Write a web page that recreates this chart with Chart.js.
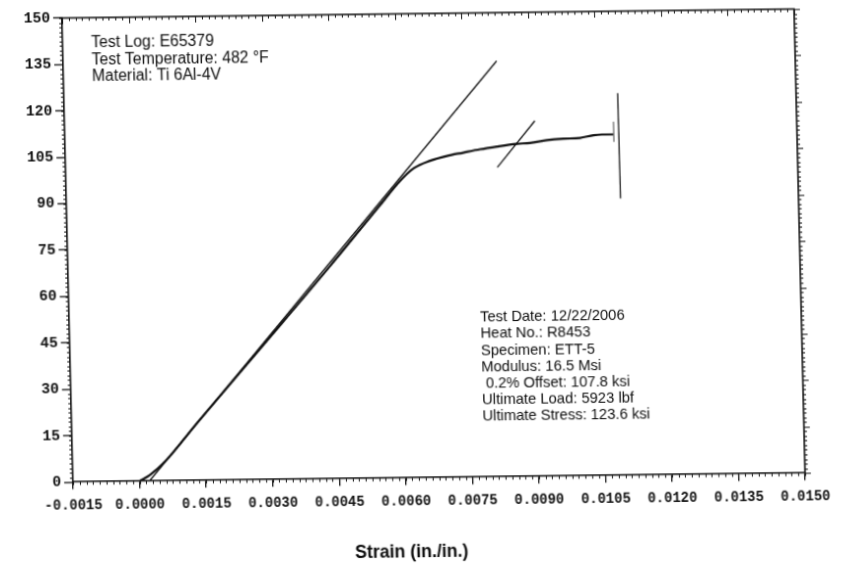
<!DOCTYPE html>
<html>
<head>
<meta charset="utf-8">
<script src="https://cdn.jsdelivr.net/npm/chart.js@4.4.0/dist/chart.umd.min.js"></script>
<style>
  html, body { margin: 0; padding: 0; background: #fff; overflow: hidden; }
  #grafico { display: block; }
</style>
</head>
<body>
<canvas id="grafico" width="853" height="576"></canvas>
<script>
// eixos
const strainTicks = [-0.0015, 0, 0.0015, 0.003, 0.0045, 0.006, 0.0075, 0.009, 0.0105, 0.012, 0.0135, 0.015];
const stressTicks = [0, 15, 30, 45, 60, 75, 90, 105, 120, 135, 150];

// curva tensao x deformacao
const curveStrain = [0.0000, 0.00024, 0.0006, 0.00132, 0.00286, 0.00441, 0.00557, 0.00603, 0.00634, 0.00672, 0.00710,
                     0.00747, 0.00785, 0.00823, 0.00868, 0.00898, 0.00936, 0.00973, 0.01011, 0.01041, 0.01060, 0.01086];
const curveStress = [0, 2.0, 6.5, 18.5, 43.5, 68.8, 88.3, 96.0, 100.0, 102.4, 103.9,
                     104.9, 105.9, 106.7, 107.5, 107.8, 108.6, 109.0, 109.2, 110.0, 110.2, 110.2];

// linha do modulo
const modStrain = [0.00022, 0.00827];
const modStress = [0, 134.4];

// linha de offset 0.2%
const offStrain = [0.00823, 0.00910];
const offStress = [100.0, 114.9];

// marcas finais
const endStrain = [0.01087, 0.01087];
const endStress = [107.8, 114.3];
const ultStrain = [0.01098, 0.01099];
const ultStress = [123.5, 89.5];

const infoTop = ['Test Log: E65379', 'Test Temperature: 482 °F', 'Material: Ti 6Al-4V'];
const infoBottom = ['Test Date: 12/22/2006', 'Heat No.: R8453', 'Specimen: ETT-5', 'Modulus: 16.5 Msi',
                    ' 0.2% Offset: 107.8 ksi', 'Ultimate Load: 5923 lbf', 'Ultimate Stress: 123.6 ksi'];
const xTitle = 'Strain (in./in.)';

function pontos(xs, ys) {
    return xs.map(function (x, i) { return { x: x, y: ys[i] }; });
}

function linha(xs, ys, largura, cor) {
    return {
        data: pontos(xs, ys),
        showLine: true,
        pointRadius: 0,
        borderColor: cor,
        borderWidth: largura,
        fill: false
    };
}

// ticks menores, moldura (topo e direita) e textos
const molduraPlugin = {
    id: 'moldura',
    afterDraw: function (chart) {
        const ctx = chart.ctx;
        const ca = chart.chartArea;
        const xs = chart.scales.x;
        const ys = chart.scales.y;
        ctx.save();
        ctx.strokeStyle = '#111';
        ctx.lineWidth = 1.6;
        ctx.beginPath();
        ctx.moveTo(ca.left, ca.top);
        ctx.lineTo(ca.right, ca.top);
        ctx.lineTo(ca.right, ca.bottom);
        ctx.stroke();

        ctx.lineWidth = 1;
        ctx.beginPath();
        for (let i = 0; i <= 110; i++) {
            const px = Math.round(xs.getPixelForValue(-0.0015 + i * 0.00015)) + 0.5;
            const maior = i % 10 === 0;
            ctx.moveTo(px, ca.bottom);
            ctx.lineTo(px, ca.bottom + 3);
            ctx.moveTo(px, ca.top);
            ctx.lineTo(px, ca.top + (maior ? 6 : 3));
        }
        for (let j = 0; j <= 100; j++) {
            const py = Math.round(ys.getPixelForValue(j * 1.5)) + 0.5;
            const maior = j % 10 === 0;
            ctx.moveTo(ca.left - 3, py);
            ctx.lineTo(ca.left, py);
            ctx.moveTo(ca.right, py);
            ctx.lineTo(ca.right + (maior ? 6 : 3), py);
        }
        ctx.stroke();

        // textos
        ctx.fillStyle = '#0d0d0d';
        ctx.textBaseline = 'middle';
        ctx.textAlign = 'left';
        ctx.font = '16px "Liberation Sans", Arial, sans-serif';
        infoTop.forEach(function (t, k) {
            ctx.fillText(t, ca.left + 29, ca.top + 25 + k * 16.3);
        });
        ctx.font = '15px "Liberation Sans", Arial, sans-serif';
        infoBottom.forEach(function (t, k) {
            ctx.fillText(t, ca.left + 417, ca.top + 298 + k * 16.2);
        });

        ctx.font = 'bold 18px "Liberation Sans", Arial, sans-serif';
        ctx.textAlign = 'center';
        ctx.fillText(xTitle, ca.left + 342, ca.top + 527);
        ctx.restore();
    }
};

const fonteX = { family: '"Liberation Mono", "Courier New", monospace', size: 14, weight: 'bold' };
const fonteY = { family: '"Liberation Mono", "Courier New", monospace', size: 15, weight: 'bold' };

const grafico = new Chart(document.getElementById('grafico').getContext('2d'), {
    type: 'scatter',
    data: {
        datasets: [
            Object.assign(linha(curveStrain, curveStress, 2.2, '#111'), { cubicInterpolationMode: 'monotone' }),
            linha(modStrain, modStress, 1.3, '#111'),
            linha(offStrain, offStress, 1.3, '#111'),
            linha(endStrain, endStress, 1, '#444'),
            linha(ultStrain, ultStress, 1.4, '#222')
        ]
    },
    options: {
        responsive: false,
        animation: false,
        layout: { padding: { left: 20, right: 48, top: 18, bottom: 64 } },
        plugins: {
            legend: { display: false },
            tooltip: { enabled: false },
            title: { display: false }
        },
        scales: {
            x: {
                type: 'linear',
                min: -0.0015,
                max: 0.015,
                afterBuildTicks: function (scale) {
                    scale.ticks = strainTicks.map(function (v) { return { value: v }; });
                },
                ticks: {
                    callback: function (v) { return v.toFixed(4); },
                    font: fonteX,
                    color: '#111',
                    padding: 8,
                    maxRotation: 0,
                    autoSkip: false
                },
                grid: { drawOnChartArea: false, drawTicks: true, tickLength: 7, color: '#111', lineWidth: 1.3 },
                border: { color: '#111', width: 1.6 }
            },
            y: {
                type: 'linear',
                min: 0,
                max: 150,
                afterBuildTicks: function (scale) {
                    scale.ticks = stressTicks.map(function (v) { return { value: v }; });
                },
                ticks: {
                    font: fonteY,
                    color: '#111',
                    padding: 3,
                    autoSkip: false
                },
                grid: { drawOnChartArea: false, drawTicks: true, tickLength: 9, color: '#111', lineWidth: 1.3 },
                border: { color: '#111', width: 1.6 }
            }
        }
    },
    plugins: [molduraPlugin]
});

// inclina levemente o grafico como na folha digitalizada
(function () {
    const ca = grafico.chartArea;
    const W = ca.right - ca.left, H = ca.bottom - ca.top;
    const TL = [62, 18], TR = [794, 9], BL = [73, 482];
    const a = (TR[0] - TL[0]) / W, b = (TR[1] - TL[1]) / W;
    const c = (BL[0] - TL[0]) / H, d = (BL[1] - TL[1]) / H;
    const e = TL[0] - a * ca.left - c * ca.top;
    const f = TL[1] - b * ca.left - d * ca.top;
    const cv = document.getElementById('grafico');
    cv.style.transformOrigin = '0 0';
    cv.style.transform = 'matrix(' + [a, b, c, d, e, f].join(',') + ')';
})();
</script>
</body>
</html>
